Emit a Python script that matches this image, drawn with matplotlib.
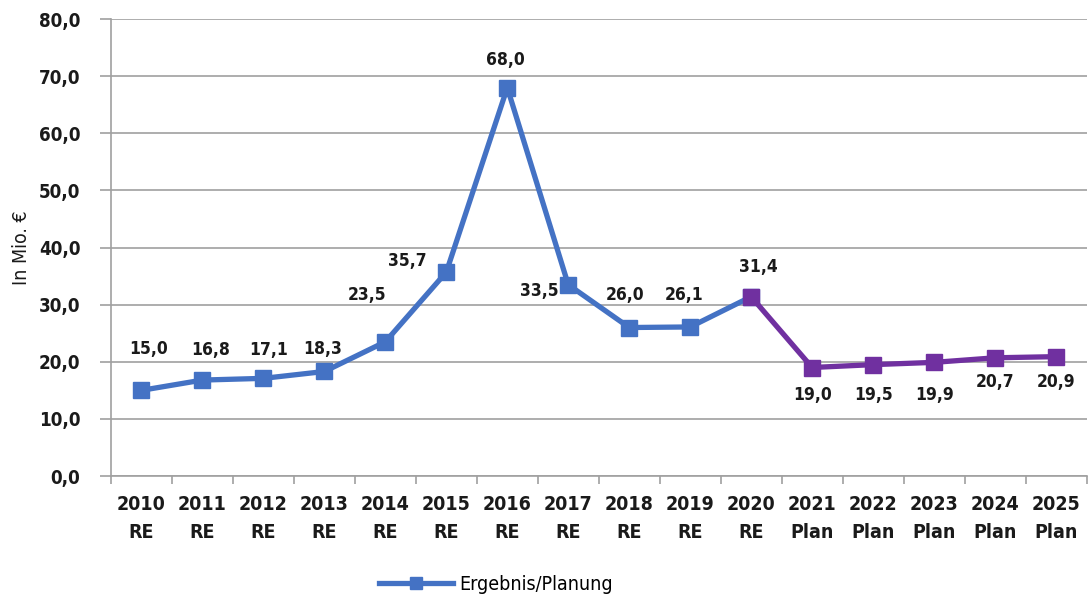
import matplotlib.pyplot as plt
import numpy as np

years = ['2010', '2011', '2012', '2013', '2014', '2015', '2016', '2017',
         '2018', '2019', '2020', '2021', '2022', '2023', '2024', '2025']
kind = ['RE'] * 11 + ['Plan'] * 5
values = [15.0, 16.8, 17.1, 18.3, 23.5, 35.7, 68.0, 33.5,
          26.0, 26.1, 31.4, 19.0, 19.5, 19.9, 20.7, 20.9]
# label offsets in pixels (dx, dy)
lab_off = [(7, 41), (8, 30), (5, 28), (-2, 22), (-18, 47), (-39, 11), (-2, 28), (-29, -6),
           (-4, 33), (-6, 32), (7, 30), (0, -27), (0, -30), (0, -33), (0, -24), (0, -25)]

plt.rcParams['font.family'] = ['DejaVu Sans']
plt.rcParams['font.stretch'] = 'condensed'
blue = '#4472C4'
purple = '#7030A0'
grey = '#A0A0A0'

fig = plt.figure(figsize=(10.9, 5.98), dpi=100)
ax = fig.add_axes([0.1018, 0.204, 0.895, 0.764])

x = np.arange(len(years))
ax.plot(x[:11], values[:11], color=blue, lw=3.8, marker='s', ms=12, zorder=3)
ax.plot(x[10:], values[10:], color=purple, lw=3.8, marker='s', ms=12, zorder=3)

for i, v in enumerate(values):
    dx, dy = lab_off[i]
    ax.annotate(f'{v:.1f}'.replace('.', ','), (x[i], v), xytext=(dx, dy),
                textcoords='offset pixels', ha='center', va='center',
                fontsize=12.5, fontweight='bold', color='#1a1a1a')

ax.set_xlim(-0.5, 15.5)
ax.set_ylim(0, 80)
ax.set_yticks(np.arange(0, 81, 10))
ax.set_yticklabels([f'{t:.1f}'.replace('.', ',') for t in range(0, 81, 10)],
                   fontsize=13.5, fontweight='bold', color='#1a1a1a')
ax.yaxis.grid(True, color=grey, lw=1.2)
ax.set_axisbelow(True)

ax.set_xticks(x)
ax.set_xticklabels([f'{y}\n{k}' for y, k in zip(years, kind)],
                   fontsize=14, fontweight='bold', color='#1a1a1a', linespacing=1.55)
ax.tick_params(axis='x', which='major', length=0, pad=14)
ax.set_xticks(np.arange(-0.5, 16, 1), minor=True)
ax.tick_params(axis='x', which='minor', length=6, color=grey, width=1.2)
ax.tick_params(axis='y', length=8, color=grey, width=1.2, pad=14)

for s in ['top', 'right']:
    ax.spines[s].set_visible(False)
for s in ['left', 'bottom']:
    ax.spines[s].set_color(grey)
    ax.spines[s].set_linewidth(1.2)

ax.set_ylabel('In Mio. €', fontsize=14, color='#1a1a1a', labelpad=6)

ax.plot([], [], color=blue, lw=3.8, marker='s', ms=9, label='Ergebnis/Planung')
leg = fig.legend(loc='lower center', bbox_to_anchor=(0.455, -0.022), frameon=False,
                 fontsize=14, handlelength=3.8, handletextpad=0.3)

fig.savefig('out.png', dpi=100)
